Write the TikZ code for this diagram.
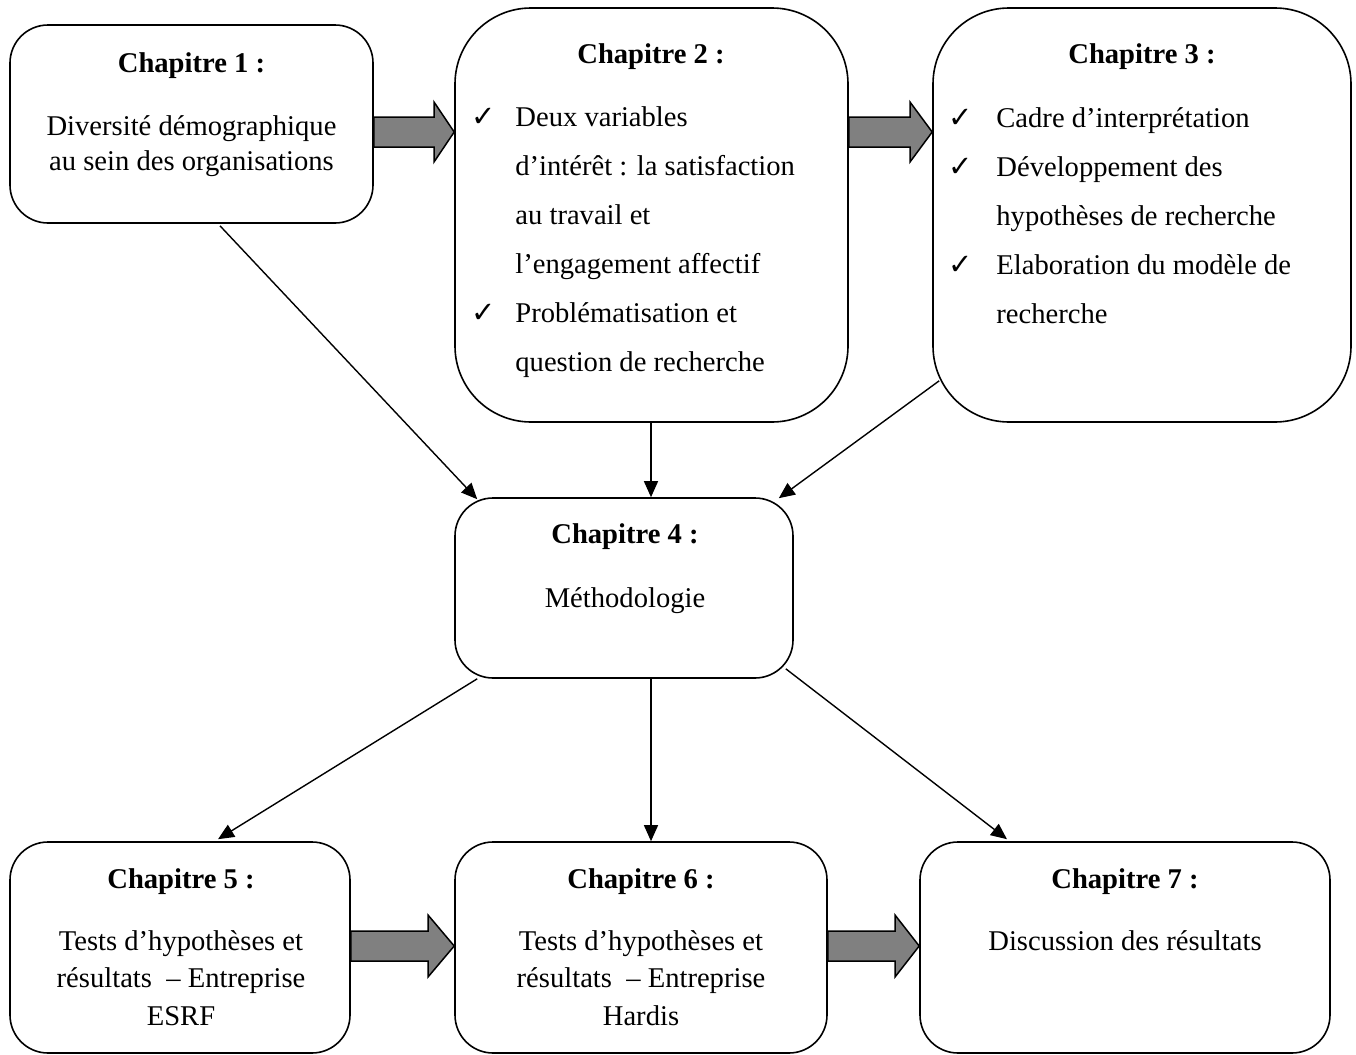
\documentclass[tikz,border=0pt]{standalone}
\usepackage{fontspec}
\setmainfont{Liberation Serif}
\newfontfamily\symfont{DejaVu Sans}
\usetikzlibrary{calc,arrows.meta}
\tikzset{
  chapbox/.style={draw, line width=0.8pt, rounded corners=19pt, fill=white, inner sep=0pt},
  bigbox/.style={chapbox, rounded corners=38pt},
  txt/.style={inner sep=0pt, font=\fontsize{14.3}{17}\selectfont},
  ttl/.style={txt, anchor=base, font=\fontsize{14.3}{17}\selectfont\bfseries},
  ctr/.style={txt, anchor=base},
  lft/.style={txt, anchor=base west},
  chk/.style={inner sep=0pt, anchor=base west, font=\fontsize{14.5}{16}\symfont},
  conn/.style={line width=0.7pt, -{Triangle[length=8pt,width=7pt]}},
  blockarrow/.style={draw, line width=0.75pt, fill=black!50, line join=miter}
}
\begin{document}
\begin{tikzpicture}[x=0.5pt,y=-0.5pt]
\useasboundingbox (0,0) rectangle (1356,1055);
% boxes
\node[chapbox, minimum width=181.5pt, minimum height=99pt] (b1) at (191.5,124) {};
\node[bigbox, minimum width=196.5pt, minimum height=207pt] (b2) at (651.5,215) {};
\node[bigbox, minimum width=209pt, minimum height=207pt] (b3) at (1142,215) {};
\node[chapbox, minimum width=169pt, minimum height=90pt] (b4) at (624,588) {};
\node[chapbox, minimum width=170pt, minimum height=105.5pt] (b5) at (180,947.5) {};
\node[chapbox, minimum width=186pt, minimum height=105.5pt] (b6) at (641,947.5) {};
\node[chapbox, minimum width=205pt, minimum height=105.5pt] (b7) at (1125,947.5) {};
% block arrows
\draw[blockarrow] (b1.east |- 0,117) -- (434,117) -- (434,102) -- (b2.west |- 0,132) -- (434,162) -- (434,147) -- (b1.east |- 0,147) -- cycle;
\draw[blockarrow] (b2.east |- 0,117) -- (910,117) -- (910,102) -- (b3.west |- 0,132) -- (910,162) -- (910,147) -- (b2.east |- 0,147) -- cycle;
\draw[blockarrow] (b5.east |- 0,931) -- (428,931) -- (428,915) -- (b6.west |- 0,946) -- (428,977) -- (428,961) -- (b5.east |- 0,961) -- cycle;
\draw[blockarrow] (b6.east |- 0,931) -- (895,931) -- (895,915) -- (b7.west |- 0,946) -- (895,977) -- (895,961) -- (b6.east |- 0,961) -- cycle;
% connectors
\draw[conn] ($(b1.south)+(28.5,2)$) -- ($(b4.north west)+(23,2)$);
\draw[conn] ($(b2.south)+(-0.5,0)$) -- ($(b4.north)+(27,0)$);
\draw[conn] ($(b3.south west)+(7,-42)$) -- ($(b4.north east)+(-15,1)$);
\draw[conn] ($(b4.south west)+(23,0)$) -- ($(b5.north)+(38,-2)$);
\draw[conn] ($(b4.south)+(27,0)$) -- ($(b6.north)+(10,0)$);
\draw[conn] ($(b4.south east)+(-8,-10)$) -- ($(b7.north)+(-118,-2)$);
% box 1 text
\node[ttl] (t1) at (191.5,72) {Chapitre 1 :};
\node[ctr] (t1a) at (191.5,135) {Diversité démographique};
\node[ctr] (t1b) at (191.5,170) {au sein des organisations};
% box 2 text
\node[ttl] (t2) at (651,63) {Chapitre 2 :};
\node[chk] (c2a) at (471,126) {✓};
\node[chk] (c2b) at (471,322) {✓};
\node[lft] (t2a) at (515,126) {Deux variables};
\node[lft] (t2b) at (515,175) {d’intérêt : la satisfaction};
\node[lft] (t2c) at (515,224) {au travail et};
\node[lft] (t2d) at (515,273) {l’engagement affectif};
\node[lft] (t2e) at (515,322) {Problématisation et};
\node[lft] (t2f) at (515,371) {question de recherche};
% box 3 text
\node[ttl] (t3) at (1142,63) {Chapitre 3 :};
\node[chk] (c3a) at (948,127) {✓};
\node[chk] (c3b) at (948,176) {✓};
\node[chk] (c3c) at (948,274) {✓};
\node[lft] (t3a) at (996,127) {Cadre d’interprétation};
\node[lft] (t3b) at (996,176) {Développement des};
\node[lft] (t3c) at (996,225) {hypothèses de recherche};
\node[lft] (t3d) at (996,274) {Elaboration du modèle de};
\node[lft] (t3e) at (996,323) {recherche};
% box 4 text
\node[ttl] (t4) at (625,543) {Chapitre 4 :};
\node[ctr] (t4a) at (625,607) {Méthodologie};
% box 5 text
\node[ttl] (t5) at (181,888) {Chapitre 5 :};
\node[ctr] (t5a) at (181,950) {Tests d’hypothèses et};
\node[ctr] (t5b) at (181,987) {résultats\ \ – Entreprise};
\node[ctr] (t5c) at (181,1025) {ESRF};
% box 6 text
\node[ttl] (t6) at (641,888) {Chapitre 6 :};
\node[ctr] (t6a) at (641,950) {Tests d’hypothèses et};
\node[ctr] (t6b) at (641,987) {résultats\ \ – Entreprise};
\node[ctr] (t6c) at (641,1025) {Hardis};
% box 7 text
\node[ttl] (t7) at (1125,888) {Chapitre 7 :};
\node[ctr] (t7a) at (1125,950) {Discussion des résultats};
\end{tikzpicture}
\end{document}
